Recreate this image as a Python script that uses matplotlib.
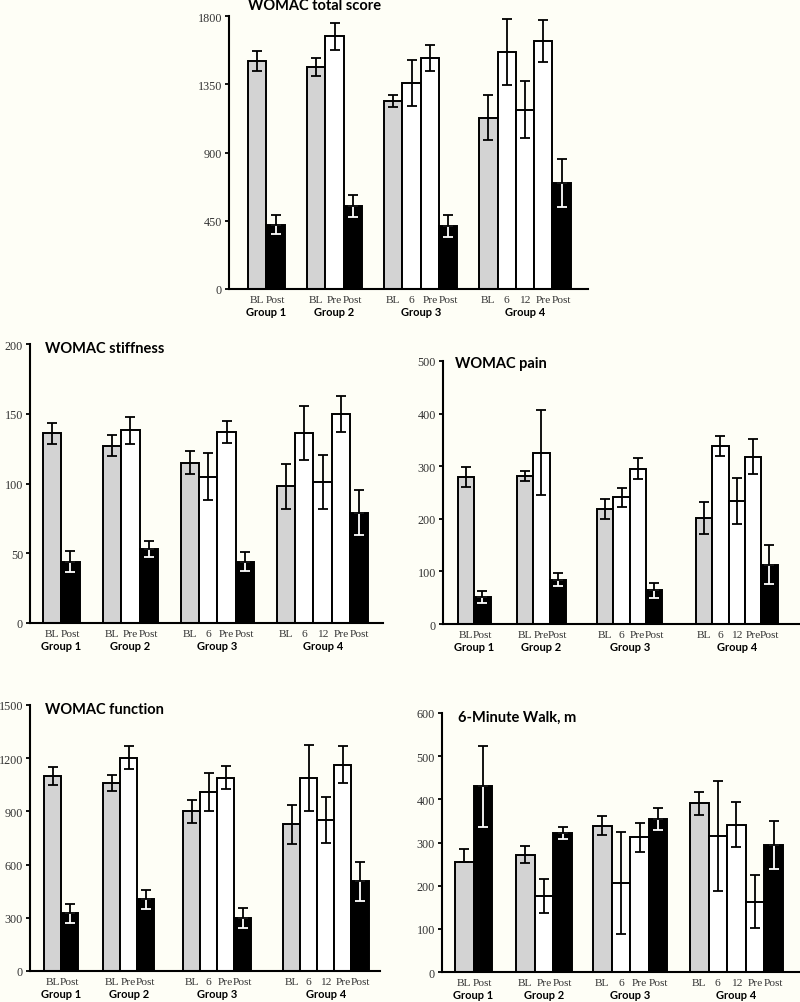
import matplotlib
matplotlib.use("Agg")
import matplotlib.pyplot as plt

# bar labels within each group and group names
group_bars = [["BL", "Post"], ["BL", "Pre", "Post"],
              ["BL", "6", "Pre", "Post"], ["BL", "6", "12", "Pre", "Post"]]
group_names = ["Group 1", "Group 2", "Group 3", "Group 4"]

# values in bar order (group 1 .. group 4)
total_mean = [1505, 425, 1465, 1665, 545, 1238, 1358, 1522, 417, 1128, 1565, 1183, 1633, 700]
total_err = [65, 60, 60, 88, 72, 38, 150, 87, 72, 148, 218, 190, 138, 160]

stiff_mean = [136, 44, 127, 138, 53, 115, 105, 137, 44, 98, 136, 101, 150, 79]
stiff_err = [7.5, 7.5, 7.5, 10, 6, 8.5, 17, 8, 7, 16, 19.5, 19.5, 13, 16]

pain_mean = [280, 51, 281, 326, 84, 219, 241, 295, 64, 201, 338, 234, 318, 113]
pain_err = [19, 11, 10, 80, 12.5, 19, 18, 20, 14, 30, 19, 43, 33, 37]

func_mean = [1100, 325, 1060, 1203, 404, 900, 1010, 1090, 300, 827, 1088, 850, 1163, 505]
func_err = [50, 53, 47, 66, 55, 66, 108, 66, 55, 109, 186, 131, 105, 108]

walk_mean = [255, 430, 272, 176, 322, 339, 207, 312, 354, 391, 315, 341, 163, 294]
walk_err = [31, 93, 19, 40, 15, 22, 118, 34, 25, 27, 127, 52, 62, 55]
walk_err_lo = [0, 93, 19, 40, 15, 22, 118, 34, 25, 27, 127, 52, 62, 55]

BG = "#fefef6"
GRAY = "#d3d3d3"
NUMFONT = "Liberation Serif"
BOLDFONT = "Lato"

fig = plt.figure(figsize=(8.0, 10.03), dpi=100, facecolor=BG)


def panel(rect, title, title_xy, means, errs, errs_lo, ymax, step, starts, xmax):
    ax = fig.add_axes(rect)
    ax.set_facecolor(BG)
    ax.patch.set_alpha(0)
    xs, cols, labs = [], [], []
    for g, s in zip(group_bars, starts):
        for k, lab in enumerate(g):
            xs.append(s + k + 0.5)
            labs.append(lab)
            cols.append(GRAY if lab == "BL" else ("black" if lab == "Post" else "white"))
    ax.bar(xs, means, width=1.0, color=cols, edgecolor="black", linewidth=1.4, zorder=2)
    for x, m, e, lo, c in zip(xs, means, errs, errs_lo, cols):
        if c == "black":
            ax.errorbar([x], [m], yerr=[[lo], [0]], color="white", capsize=3.6,
                        elinewidth=1.3, capthick=1.3, zorder=3)
            ax.errorbar([x], [m], yerr=[[0], [e]], color="black", capsize=3.6,
                        elinewidth=1.3, capthick=1.3, zorder=4)
        else:
            ax.errorbar([x], [m], yerr=[[lo], [e]], color="black", capsize=3.6,
                        elinewidth=1.3, capthick=1.3, zorder=3)
    ax.set_xlim(0, xmax)
    ax.set_ylim(0, ymax)
    ax.set_yticks(range(0, ymax + 1, step))
    ax.set_yticklabels([str(v) for v in range(0, ymax + 1, step)],
                       fontfamily=NUMFONT, fontsize=8.7, color="#333333")
    ax.tick_params(axis="y", direction="out", length=3, width=1.3, pad=2)
    ax.set_xticks([])
    for sp in ["top", "right"]:
        ax.spines[sp].set_visible(False)
    for sp in ["left", "bottom"]:
        ax.spines[sp].set_linewidth(1.5)
    ax.spines["left"].set_bounds(0, ymax)
    for x, lab in zip(xs, labs):
        ax.annotate(lab, xy=(x, 0), xycoords=("data", "axes fraction"),
                    xytext=(0, -7.5), textcoords="offset points",
                    ha="center", va="center", fontfamily=NUMFONT, fontsize=8.2,
                    color="#333333")
    for g, s, name in zip(group_bars, starts, group_names):
        ax.annotate(name, xy=(s + len(g) / 2, 0), xycoords=("data", "axes fraction"),
                    xytext=(0, -16.5), textcoords="offset points",
                    ha="center", va="center", fontfamily=BOLDFONT,
                    fontweight="bold", fontsize=8, color="black")
    fig.text(title_xy[0] / 800, 1 - title_xy[1] / 1003, title, ha="left", va="center",
             fontfamily=BOLDFONT, fontweight="bold", fontsize=10.5, color="black")
    return ax


panel([229 / 800, 1 - 290 / 1003, 359 / 800, 273 / 1003], "WOMAC total score", (248, 6),
      total_mean, total_err, total_err, 1800, 450, [1.04, 4.26, 8.47, 13.66], 19.6)
panel([30 / 800, 1 - 624 / 1003, 353 / 800, 279 / 1003], "WOMAC stiffness", (45, 349),
      stiff_mean, stiff_err, stiff_err, 200, 50, [0.71, 3.99, 8.25, 13.5], 19.3)
panel([443 / 800, 1 - 625 / 1003, 357 / 800, 263 / 1003], "WOMAC pain", (455, 364),
      pain_mean, pain_err, pain_err, 500, 100, [0.92, 4.54, 9.45, 15.52], 21.9)
panel([30 / 800, 1 - 972 / 1003, 350 / 800, 266 / 1003], "WOMAC function", (45, 710),
      func_mean, func_err, func_err, 1500, 300, [0.82, 4.27, 8.95, 14.8], 20.47)
panel([442 / 800, 1 - 973 / 1003, 358 / 800, 259 / 1003], "6-Minute Walk, m", (458, 718),
      walk_mean, walk_err, walk_err_lo, 600, 100, [0.7, 3.98, 8.12, 13.33], 19.25)

fig.savefig("out.png", dpi=100, facecolor=BG)
